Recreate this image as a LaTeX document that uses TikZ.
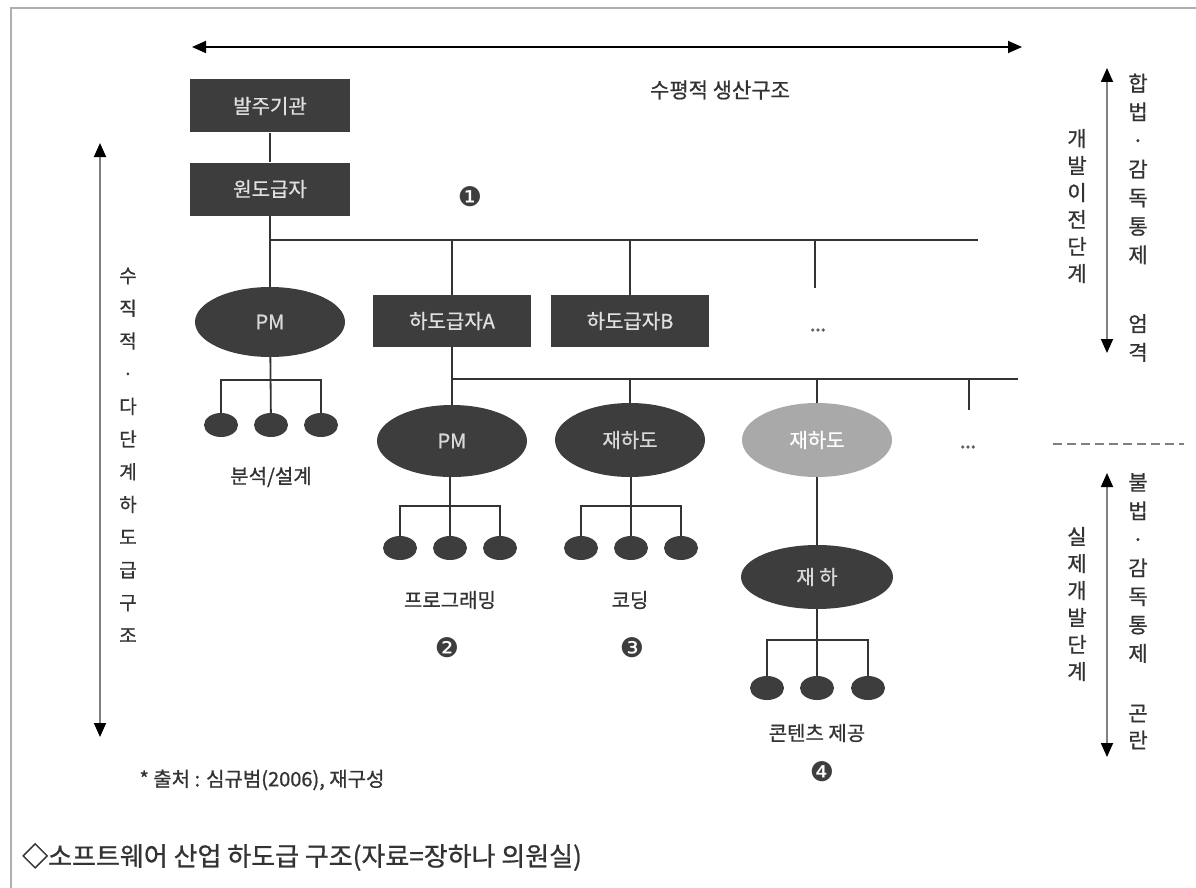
\documentclass[tikz,border=0pt]{standalone}
\usepackage{fontspec}
\setmainfont{Noto Sans CJK KR}[FakeBold=0.8]
\newfontfamily\dingfont{DejaVu Sans}
\usetikzlibrary{arrows.meta,shapes.geometric}
\definecolor{boxgray}{HTML}{3D3D3D}
\definecolor{lightell}{HTML}{A9A9A9}
\definecolor{txtgray}{HTML}{333333}
\definecolor{framegray}{HTML}{AFAFAF}
\tikzset{
  darkbox/.style={fill=boxgray, text=white!88!black, minimum width=160, minimum height=53, inner sep=0, font=\fontsize{20}{20}\selectfont},
  bigell/.style={ellipse, fill=boxgray, text=white!85!black, minimum width=150, minimum height=72, inner sep=0, font=\fontsize{20}{20}\selectfont},
  greyell/.style={bigell, fill=lightell, text=white},
  smallell/.style={ellipse, fill=boxgray, minimum width=34, minimum height=24, inner sep=0},
  conn/.style={draw=txtgray, line width=1.8},
  lbl/.style={text=txtgray, inner sep=0, font=\fontsize{20}{20}\selectfont},
  numlbl/.style={text=boxgray, inner sep=0, font=\dingfont\fontsize{27}{27}\selectfont},
  dotslbl/.style={text=txtgray!80, inner sep=0, font=\fontsize{15}{15}\selectfont\bfseries},
  vtxt/.style={text=txtgray, inner sep=0, align=center},
  dblarrow/.style={line width=1.8, arrows={Triangle[length=14,width=12,color=black]-Triangle[length=14,width=12,color=black]}},
}
\begin{document}
\begin{tikzpicture}[x=1pt,y=-1pt]
\useasboundingbox (0,0) rectangle (1196,888);
\fill[white] (0,0) rectangle (1196,888);
% frame
\draw[framegray, line width=2] (1196,8) -- (11,8) -- (11,888);

% top horizontal arrow
\coordinate (ta1) at (192,47);
\coordinate (ta2) at (1022,47);
\draw[dblarrow, draw=black] (ta1) -- (ta2);
\node[lbl, font=\fontsize{21}{21}\selectfont] (hor) at (720,90) {수평적 생산구조};

% left vertical arrow
\coordinate (la1) at (100,143);
\coordinate (la2) at (100,737);
\draw[dblarrow, draw=gray] (la1) -- (la2);
\node[vtxt, font=\fontsize{19}{32.7}\selectfont] (ltext) at (128,455) {수\\직\\적\\·\\다\\단\\계\\하\\도\\급\\구\\조};

% right arrows
\coordinate (ra1) at (1107,68);
\coordinate (ra2) at (1107,353);
\draw[dblarrow, draw=gray] (ra1) -- (ra2);
\coordinate (ra3) at (1107,473);
\coordinate (ra4) at (1107,757);
\draw[dblarrow, draw=gray] (ra3) -- (ra4);

\node[vtxt, font=\fontsize{21}{28.6}\selectfont] (rt1) at (1138,169) {합\\법\\·\\감\\독\\통\\제};
\node[vtxt, font=\fontsize{21}{28.6}\selectfont] (rt2) at (1138,338) {엄\\격};
\node[vtxt, font=\fontsize{21}{27}\selectfont] (rt3) at (1077,206) {개\\발\\이\\전\\단\\계};
\node[vtxt, font=\fontsize{21}{28.5}\selectfont] (rt4) at (1138,568) {불\\법\\·\\감\\독\\통\\제};
\node[vtxt, font=\fontsize{21}{27}\selectfont] (rt5) at (1138,727) {곤\\란};
\node[vtxt, font=\fontsize{21}{27}\selectfont] (rt6) at (1077,604) {실\\제\\개\\발\\단\\계};
\coordinate (dl1) at (1053,444);
\coordinate (dl2) at (1184,444);
\draw[gray, line width=1.6, dash pattern=on 9 off 5] (dl1) -- (dl2);

% boxes
\node[darkbox] (b1) at (270,106) {발주기관};
\node[darkbox] (b2) at (270,189) {원도급자};
\node[numlbl] (n1) at (470,197) {❶};
\draw[conn] (b1) -- (b2);

% level 1 bus
\coordinate (h1s) at (270,240);
\coordinate (h1e) at (978,240);
\draw[conn] (h1s) -- (h1e);

\node[bigell, minimum height=70] (pm1) at (270,322) {PM};
\node[darkbox, minimum width=158, minimum height=52] (ha) at (452,321) {하도급자A};
\node[darkbox, minimum width=158, minimum height=52] (hb) at (630,321) {하도급자B};
\node[dotslbl] (dots1) at (818,330) {...};
\coordinate (d1) at (815,288);

\draw[conn] (b2) -- (pm1);
\draw[conn] (ha.north |- h1s) -- (ha);
\draw[conn] (hb.north |- h1s) -- (hb);
\draw[conn] (d1 |- h1s) -- (d1);

% PM1 children
\node[smallell] (s11) at (221,425) {};
\node[smallell] (s12) at (271,425) {};
\node[smallell] (s13) at (321,425) {};
\coordinate (k1) at (271,380);
\draw[conn] (pm1) -- (s12);
\draw[conn] (s11.north) |- (k1) -| (s13.north);
\node[lbl] (l1) at (271,477) {분석/설계};

% level 2 bus
\coordinate (h2s) at (452,379);
\coordinate (h2e) at (1018,379);
\draw[conn] (h2s) -- (h2e);
\draw[conn] (ha) -- (h2s);

\node[bigell] (pm2) at (452,441) {PM};
\node[bigell, minimum height=74] (jh1) at (630,440) {재하도};
\node[greyell, minimum height=74] (jh2) at (817,440) {재하도};
\node[dotslbl] (dots2) at (968,447) {...};
\coordinate (d2) at (969,410);

\draw[conn] (pm2.north |- h2s) -- (pm2);
\draw[conn] (jh1.north |- h2s) -- (jh1);
\draw[conn] (jh2.north |- h2s) -- (jh2);
\draw[conn] (d2 |- h2s) -- (d2);

% PM2 children
\node[smallell] (s21) at (400,548) {};
\node[smallell] (s22) at (450,548) {};
\node[smallell] (s23) at (500,548) {};
\coordinate (k2) at (450,506);
\draw[conn] (pm2.south -| s22) -- (s22);
\draw[conn] (s21.north) |- (k2) -| (s23.north);
\node[lbl] (l2) at (450,600) {프로그래밍};
\node[numlbl] (n2) at (447,648) {❷};

% 재하도 children
\node[smallell] (s31) at (581,548) {};
\node[smallell] (s32) at (631,548) {};
\node[smallell] (s33) at (681,548) {};
\coordinate (k3) at (631,506);
\draw[conn] (jh1.south -| s32) -- (s32);
\draw[conn] (s31.north) |- (k3) -| (s33.north);
\node[lbl] (l3) at (630,600) {코딩};
\node[numlbl] (n3) at (632,648) {❸};

% 재하
\node[bigell, minimum width=152, minimum height=64] (jh3) at (817,577) {재 하};
\draw[conn] (jh2) -- (jh3);
\node[smallell] (s41) at (767,688) {};
\node[smallell] (s42) at (817,688) {};
\node[smallell] (s43) at (868,688) {};
\coordinate (k4) at (817,640);
\draw[conn] (jh3) -- (s42);
\draw[conn] (s41.north) |- (k4) -| (s43.north);
\node[lbl] (l4) at (817,733) {콘텐츠 제공};
\node[numlbl] (n4) at (822,772) {❹};

% bottom texts
\node[text=txtgray, inner sep=0, font=\fontsize{20}{20}\selectfont] (src) at (262,780) {* 출처 : 심규범(2006), 재구성};
\node[text=txtgray, inner sep=0, anchor=west, font=\fontsize{26}{26}\selectfont] (cap) at (22,857) {◇소프트웨어 산업 하도급 구조(자료=장하나 의원실)};
\end{tikzpicture}
\end{document}
